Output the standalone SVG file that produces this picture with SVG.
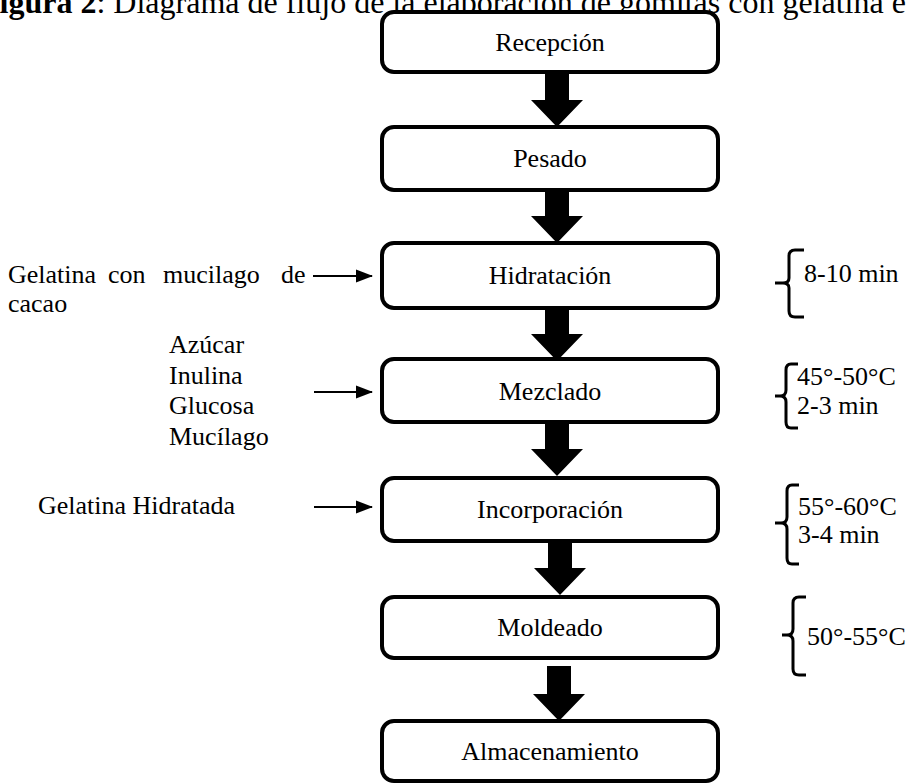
<svg xmlns="http://www.w3.org/2000/svg" width="912" height="783" viewBox="0 0 912 783">
  <style>
    text { font-family: "Liberation Serif", "Times New Roman", serif; font-size: 26px; fill: #000; }
    .title { font-size: 32px; }
    .lbl { text-anchor: middle; }
    .box { fill: #fff; stroke: #000; stroke-width: 4; }
    .flow { fill: #000; }
    .feed { stroke: #000; stroke-width: 2; fill: none; }
    .brace { stroke: #000; stroke-width: 3; fill: none; }
  </style>
  <defs>
    <marker id="feedHead" markerWidth="17" markerHeight="14" refX="16" refY="7" orient="auto" markerUnits="userSpaceOnUse">
      <path d="M0,0.5 L17,7 L0,13.5 Z" fill="#000"/>
    </marker>
    <!-- thick block arrow pointing down; origin at its top-centre -->
    <path id="blockArrow" d="M-12,0 H12 V28 H26 L0,55 L-26,28 H-12 Z"/>
  </defs>

  <text class="title" x="-20" y="13"><tspan font-weight="bold">Figura 2</tspan>: Diagrama de flujo de la elaboración de gomitas con gelatina e</text>

  <!-- process steps -->
  <g id="recepcion"><rect class="box" x="382" y="12" width="336" height="60" rx="12"/><text class="lbl" x="550" y="51">Recepción</text></g>
  <g id="pesado"><rect class="box" x="382" y="127" width="336" height="63" rx="12"/><text class="lbl" x="550" y="167">Pesado</text></g>
  <g id="hidratacion"><rect class="box" x="382" y="243" width="336" height="65" rx="12"/><text class="lbl" x="550" y="284">Hidratación</text></g>
  <g id="mezclado"><rect class="box" x="382" y="359" width="336" height="63" rx="12"/><text class="lbl" x="550" y="400">Mezclado</text></g>
  <g id="incorporacion"><rect class="box" x="382" y="478" width="336" height="63" rx="12"/><text class="lbl" x="550" y="518">Incorporación</text></g>
  <g id="moldeado"><rect class="box" x="382" y="597" width="336" height="61" rx="12"/><text class="lbl" x="550" y="636">Moldeado</text></g>
  <g id="almacenamiento"><rect class="box" x="382" y="721" width="336" height="60" rx="12"/><text class="lbl" x="550" y="760">Almacenamiento</text></g>

  <!-- inputs -->
  <g id="in-gelatina-mucilago">
    <text y="283"><tspan x="8">Gelatina</tspan><tspan x="108">con</tspan><tspan x="163">mucilago</tspan><tspan x="281">de</tspan></text>
    <text x="8" y="312">cacao</text>
  </g>
  <g id="in-mezcla">
    <text x="169" y="353">Azúcar</text>
    <text x="169" y="384">Inulina</text>
    <text x="169" y="414">Glucosa</text>
    <text x="169" y="445">Mucílago</text>
  </g>
  <g id="in-gelatina-hidratada">
    <text x="38" y="514">Gelatina Hidratada</text>
  </g>

  <!-- conditions -->
  <g id="cond-hidratacion">
    <path class="brace" d="M804,250 H795 Q789,250 789,256 V278 Q789,283 783,283 H775 M783,283 Q789,283 789,288 V311 Q789,317 795,317 H804"/>
    <text x="804" y="282">8-10 min</text>
  </g>
  <g id="cond-mezclado">
    <path class="brace" d="M798,364 H791 Q786,364 786,370 V390 Q786,396 780,396 H775 M780,396 Q786,396 786,402 V422 Q786,428 791,428 H798"/>
    <text x="797" y="385">45°-50°C</text>
    <text x="797" y="414">2-3 min</text>
  </g>
  <g id="cond-incorporacion">
    <path class="brace" d="M799,485 H792 Q787,485 787,491 V517 Q787,523 781,523 H775 M781,523 Q787,523 787,529 V558 Q787,564 792,564 H799"/>
    <text x="798" y="515">55°-60°C</text>
    <text x="798" y="543">3-4 min</text>
  </g>
  <g id="cond-moldeado">
    <path class="brace" d="M806,597 H799 Q793,597 793,603 V629 Q793,635 787,635 H782 M787,635 Q793,635 793,641 V669 Q793,675 799,675 H806"/>
    <text x="807" y="645">50°-55°C</text>
  </g>

  <g id="connectors">
    <use href="#blockArrow" class="flow" x="557" y="72"/>
    <use href="#blockArrow" class="flow" x="557" y="188"/>
    <use href="#blockArrow" class="flow" x="557" y="306"/>
    <use href="#blockArrow" class="flow" x="557" y="421"/>
    <use href="#blockArrow" class="flow" x="560" y="540"/>
    <use href="#blockArrow" class="flow" x="559" y="666"/>
    <line class="feed" x1="313" y1="276" x2="372" y2="276" marker-end="url(#feedHead)"/>
    <line class="feed" x1="314" y1="392" x2="372" y2="392" marker-end="url(#feedHead)"/>
    <line class="feed" x1="314" y1="507" x2="372" y2="507" marker-end="url(#feedHead)"/>
  </g>
</svg>
